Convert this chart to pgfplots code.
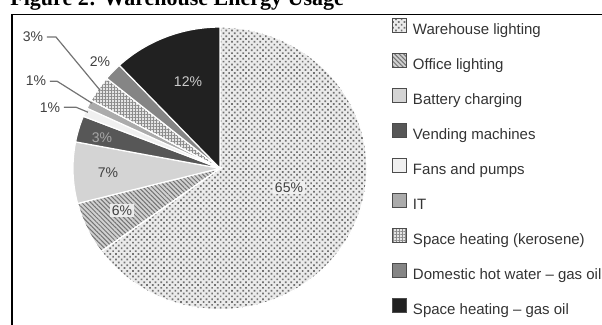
\documentclass[border=0pt]{standalone}
\usepackage{fontspec}
\setmainfont{Liberation Sans}
\newfontfamily\titlefont{Liberation Serif}
\usepackage{pgfplots}
\pgfplotsset{compat=1.18}
\usetikzlibrary{patterns.meta}

\pgfplotsset{
  sl/.style={draw=white, line width=0.6pt},
  wl/.style={sl, fill=black!8, postaction={pattern={Dots[distance=2pt,angle=45,radius=0.6pt]}, pattern color=black!55}},
  ol/.style={sl, fill=black!18, postaction={pattern={Lines[angle=-45,distance=1.6pt,line width=0.5pt]}, pattern color=black!55}},
  bc/.style={sl, fill=black!17},
  vm/.style={sl, fill=black!66},
  fp/.style={sl, fill=black!6},
  it/.style={sl, fill=black!33},
  sk/.style={sl, fill=black!10, postaction={pattern={Hatch[angle=0,distance=1.5pt,line width=0.35pt]}, pattern color=black!45}},
  dh/.style={sl, fill=black!48},
  sg/.style={sl, fill=black!87},
}

% #1 = cumulative percentage before the slice, #2 = percentage of the slice
\newcommand\slice[3]{%
  \addplot[#3, domain=90-3.6*(#1+#2):90-3.6*#1, samples=120]
    ({220+147*cos(x)},{168-141*sin(x)}) -- (axis cs:220,168) -- cycle;}

\begin{document}
\begin{tikzpicture}
\begin{axis}[
  scale only axis, width=301pt, height=162pt,
  xmin=0, xmax=602, ymin=0, ymax=324, y dir=reverse,
  hide axis, clip=false,
  legend style={at={(axis cs:392,18.4)}, anchor=north west, draw=none, fill=none,
    inner sep=0pt, outer sep=0pt, font=\fontsize{7.5}{9}\selectfont, text=black!80,
    row sep=6.35pt, nodes={inner sep=1pt, text height=5.8pt, text depth=1.9pt},
    /tikz/every odd column/.style={column sep=2pt}},
  legend cell align=left,
  legend image code/.code={\draw[#1, draw=black!70, line width=0.5pt] (0pt,-1pt) rectangle (7pt,6pt);},
]
\slice{0}{65}{wl}  \addlegendentry{Warehouse lighting}
\slice{65}{6}{ol}  \addlegendentry{Office lighting}
\slice{71}{7}{bc}  \addlegendentry{Battery charging}
\slice{78}{3}{vm}  \addlegendentry{Vending machines}
\slice{81}{1}{fp}  \addlegendentry{Fans and pumps}
\slice{82}{1}{it}  \addlegendentry{IT}
\slice{83}{3}{sk}  \addlegendentry{Space heating (kerosene)}
\slice{86}{2}{dh}  \addlegendentry{Domestic hot water -- gas oil}
\slice{88}{12}{sg} \addlegendentry{Space heating -- gas oil}

\tikzset{lbl/.style={font=\fontsize{7}{8}\selectfont, inner sep=0.8pt}}
\node[lbl, fill=black!6, text=black!75] at (axis cs:289,187) {65\%};
\node[lbl, text=black!20] at (axis cs:188,81) {12\%};
\node[lbl, text=black!75] at (axis cs:100,62) {2\%};
\node[lbl, text=black!35] at (axis cs:102,137) {3\%};
\node[lbl, text=black!75] at (axis cs:108,172) {7\%};
\node[lbl, fill=black!8, text=black!75] at (axis cs:122,210) {6\%};
\node[lbl, text=black!75] at (axis cs:33,37) {3\%};
\node[lbl, text=black!75] at (axis cs:36,81) {1\%};
\node[lbl, text=black!75] at (axis cs:50,107) {1\%};
\draw[black!55, line width=0.6pt] (axis cs:47,37) -- (axis cs:56,37) -- (axis cs:100,90);
\draw[black!55, line width=0.6pt] (axis cs:50,81) -- (axis cs:57,81) -- (axis cs:92,103);
\draw[black!55, line width=0.6pt] (axis cs:64,107) -- (axis cs:76,107) -- (axis cs:88,112);

\node[anchor=base west, inner sep=0pt, font=\titlefont\bfseries\fontsize{11}{13}\selectfont]
  at (axis cs:10,5) {Figure 2: Warehouse Energy Usage};
\draw[black, line width=0.8pt] (axis cs:12,400) -- (axis cs:12,14.5) -- (axis cs:700,14.5);
\end{axis}
\pgfresetboundingbox
\useasboundingbox (current axis.south west) rectangle (current axis.north east);
\end{tikzpicture}
\end{document}
